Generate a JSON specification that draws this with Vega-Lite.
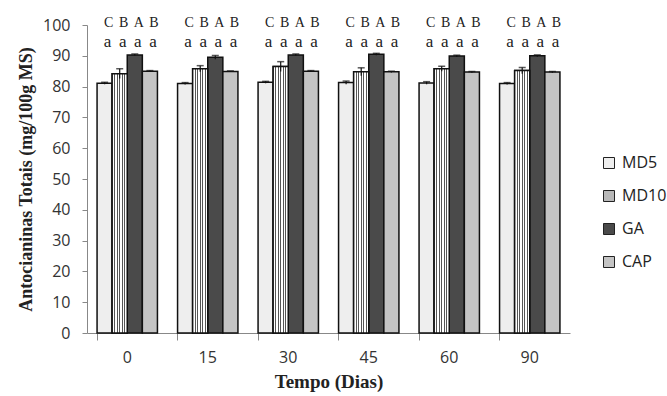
{
  "$schema": "https://vega.github.io/schema/vega-lite/v6.json",
  "width": 483,
  "height": 308,
  "autosize": {"type": "none"},
  "padding": {"left": 87, "top": 25, "right": 97, "bottom": 63},
  "background": "white",
  "config": {
    "view": {"stroke": null},
    "axisY": {
      "values": [0, 10, 20, 30, 40, 50, 60, 70, 80, 90, 100],
      "labelOverlap": false, "labelBound": false,
      "grid": false, "domainColor": "#888888", "tickColor": "#888888", "tickSize": 5,
      "labelFont": "Open Sans", "labelFontSize": 16, "labelColor": "#333333", "labelPadding": 12,
      "titleFont": "Liberation Serif", "titleFontSize": 18, "titleFontWeight": "bold", "titleColor": "#222222", "titlePadding": 7
    }
  },
  "data": {
    "values": [
      {"tempo": "0", "serie": "MD5", "valor": 81.1, "lo": 80.8, "hi": 81.4, "maius": "C", "minus": "a"},
      {"tempo": "0", "serie": "MD10", "valor": 84.2, "lo": 82.6, "hi": 85.8, "maius": "B", "minus": "a"},
      {"tempo": "0", "serie": "GA", "valor": 90.3, "lo": 90.0, "hi": 90.6, "maius": "A", "minus": "a"},
      {"tempo": "0", "serie": "CAP", "valor": 85.0, "lo": 84.8, "hi": 85.2, "maius": "B", "minus": "a"},
      {"tempo": "15", "serie": "MD5", "valor": 81.0, "lo": 80.7, "hi": 81.3, "maius": "C", "minus": "a"},
      {"tempo": "15", "serie": "MD10", "valor": 85.8, "lo": 84.8, "hi": 86.8, "maius": "B", "minus": "a"},
      {"tempo": "15", "serie": "GA", "valor": 89.5, "lo": 88.9, "hi": 90.1, "maius": "A", "minus": "a"},
      {"tempo": "15", "serie": "CAP", "valor": 84.9, "lo": 84.7, "hi": 85.1, "maius": "B", "minus": "a"},
      {"tempo": "30", "serie": "MD5", "valor": 81.4, "lo": 81.1, "hi": 81.7, "maius": "C", "minus": "a"},
      {"tempo": "30", "serie": "MD10", "valor": 86.5, "lo": 84.9, "hi": 88.1, "maius": "B", "minus": "a"},
      {"tempo": "30", "serie": "GA", "valor": 90.3, "lo": 90.0, "hi": 90.6, "maius": "A", "minus": "a"},
      {"tempo": "30", "serie": "CAP", "valor": 85.0, "lo": 84.8, "hi": 85.2, "maius": "B", "minus": "a"},
      {"tempo": "45", "serie": "MD5", "valor": 81.3, "lo": 80.8, "hi": 81.8, "maius": "C", "minus": "a"},
      {"tempo": "45", "serie": "MD10", "valor": 84.8, "lo": 83.5, "hi": 86.1, "maius": "B", "minus": "a"},
      {"tempo": "45", "serie": "GA", "valor": 90.5, "lo": 90.2, "hi": 90.8, "maius": "A", "minus": "a"},
      {"tempo": "45", "serie": "CAP", "valor": 84.8, "lo": 84.6, "hi": 85.0, "maius": "B", "minus": "a"},
      {"tempo": "60", "serie": "MD5", "valor": 81.2, "lo": 80.8, "hi": 81.6, "maius": "C", "minus": "a"},
      {"tempo": "60", "serie": "MD10", "valor": 85.8, "lo": 85.0, "hi": 86.6, "maius": "B", "minus": "a"},
      {"tempo": "60", "serie": "GA", "valor": 89.9, "lo": 89.6, "hi": 90.2, "maius": "A", "minus": "a"},
      {"tempo": "60", "serie": "CAP", "valor": 84.7, "lo": 84.5, "hi": 84.9, "maius": "B", "minus": "a"},
      {"tempo": "90", "serie": "MD5", "valor": 81.0, "lo": 80.7, "hi": 81.3, "maius": "C", "minus": "a"},
      {"tempo": "90", "serie": "MD10", "valor": 85.2, "lo": 84.2, "hi": 86.2, "maius": "B", "minus": "a"},
      {"tempo": "90", "serie": "GA", "valor": 90.0, "lo": 89.7, "hi": 90.3, "maius": "A", "minus": "a"},
      {"tempo": "90", "serie": "CAP", "valor": 84.7, "lo": 84.5, "hi": 84.9, "maius": "B", "minus": "a"}
    ]
  },
  "encoding": {
    "x": {
      "field": "tempo", "type": "nominal", "sort": ["0", "15", "30", "45", "60", "90"],
      "scale": {"paddingInner": 0.25, "paddingOuter": 0.125},
      "axis": {
        "title": "Tempo (Dias)", "labelAngle": 0, "bandPosition": 0,
        "domainColor": "#888888", "tickColor": "#888888", "tickSize": 7,
        "labelFont": "Open Sans", "labelFontSize": 16, "labelColor": "#333333", "labelPadding": 9,
        "titleFont": "Liberation Serif", "titleFontSize": 19, "titleFontWeight": "bold", "titleColor": "#222222", "titlePadding": 7
      }
    },
    "xOffset": {"field": "serie", "type": "nominal", "sort": ["MD5", "MD10", "GA", "CAP"]}
  },
  "layer": [
    {
      "mark": {"type": "bar", "stroke": "#111111", "strokeWidth": 1.5},
      "encoding": {
        "y": {
          "field": "valor", "type": "quantitative",
          "scale": {"domain": [0, 100], "nice": false},
          "axis": {"title": "Antocianinas Totais (mg/100g MS)"}
        },
        "fill": {
          "field": "serie", "type": "nominal", "sort": ["MD5", "MD10", "GA", "CAP"],
          "scale": {
            "domain": ["MD5", "MD10", "GA", "CAP"],
            "range": ["#eeeeee", "#b8b8b8", "#4a4a4a", "#c4c4c4"]
          },
          "legend": {
            "title": null, "orient": "none", "legendX": 514, "legendY": 130,
            "symbolType": "square", "symbolSize": 121, "symbolStrokeColor": "#222222", "symbolStrokeWidth": 1,
            "labelFont": "Open Sans", "labelFontSize": 16, "labelColor": "#222222", "rowPadding": 17, "labelOffset": 5
          }
        }
      }
    },
    {
      "transform": [{"filter": "datum.serie === 'MD10'"}],
      "mark": {
        "type": "bar", "stroke": "#111111", "strokeWidth": 1.5,
        "fill": {"gradient": "linear", "x1": 0, "y1": 0, "x2": 1, "y2": 0, "stops": [
          {"offset": 0, "color": "#ffffff"}, {"offset": 0.14, "color": "#ffffff"},
          {"offset": 0.14, "color": "#555555"}, {"offset": 0.2, "color": "#555555"},
          {"offset": 0.2, "color": "#ffffff"}, {"offset": 0.31, "color": "#ffffff"},
          {"offset": 0.31, "color": "#555555"}, {"offset": 0.37, "color": "#555555"},
          {"offset": 0.37, "color": "#ffffff"}, {"offset": 0.47, "color": "#ffffff"},
          {"offset": 0.47, "color": "#555555"}, {"offset": 0.53, "color": "#555555"},
          {"offset": 0.53, "color": "#ffffff"}, {"offset": 0.63, "color": "#ffffff"},
          {"offset": 0.63, "color": "#555555"}, {"offset": 0.69, "color": "#555555"},
          {"offset": 0.69, "color": "#ffffff"}, {"offset": 0.8, "color": "#ffffff"},
          {"offset": 0.8, "color": "#555555"}, {"offset": 0.86, "color": "#555555"},
          {"offset": 0.86, "color": "#ffffff"}, {"offset": 1, "color": "#ffffff"}
        ]}
      },
      "encoding": {
        "y": {"field": "valor", "type": "quantitative"}
      }
    },
    {
      "mark": {"type": "rule", "color": "#111111", "strokeWidth": 1.2},
      "encoding": {
        "y": {"field": "lo", "type": "quantitative"},
        "y2": {"field": "hi"}
      }
    },
    {
      "mark": {"type": "tick", "color": "#111111", "thickness": 1.5, "size": 7},
      "encoding": {
        "y": {"field": "hi", "type": "quantitative"}
      }
    },
    {
      "mark": {"type": "text", "font": "Liberation Serif", "fontSize": 14, "color": "#222222", "baseline": "alphabetic", "dx": 4},
      "encoding": {
        "y": {"datum": 99.3, "type": "quantitative"},
        "text": {"field": "maius"}
      }
    },
    {
      "mark": {"type": "text", "font": "Liberation Serif", "fontSize": 17, "color": "#222222", "baseline": "alphabetic", "dx": 3},
      "encoding": {
        "y": {"datum": 92.9, "type": "quantitative"},
        "text": {"field": "minus"}
      }
    }
  ]
}
